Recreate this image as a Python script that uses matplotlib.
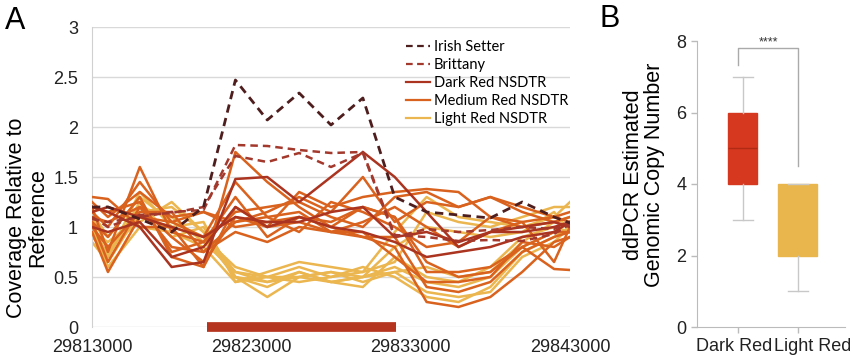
import numpy as np
import matplotlib
matplotlib.use("Agg")
import matplotlib.pyplot as plt
import matplotlib.transforms as mtransforms

plt.rcParams['font.family'] = ['Liberation Sans', 'DejaVu Sans']

# genomic positions of the coverage windows
positions = [29813000, 29814000, 29816000, 29818000, 29820000, 29822000, 29824000,
             29826000, 29828000, 29830000, 29832000, 29834000, 29836000, 29838000,
             29840000, 29842000, 29843000]

irish_setter = [1.2, 1.2, 1.08, 0.95, 1.2, 2.47, 2.07, 2.34, 2.02, 2.29, 1.3, 1.15,
                1.12, 1.09, 1.25, 1.1, 1.04]
brittany = [
    [1.08, 1.05, 1.1, 1.15, 1.17, 1.82, 1.81, 1.77, 1.74, 1.75, 0.92, 0.9, 0.86, 0.87, 0.86, 0.93, 1.03],
    [1.1, 1.0, 1.12, 1.14, 1.2, 1.71, 1.65, 1.74, 1.6, 1.74, 0.9, 0.98, 0.95, 0.97, 1.0, 0.98, 1.05],
]
dark_red = [
    [1.2, 1.15, 1.0, 0.6, 0.65, 1.48, 1.5, 1.25, 1.5, 1.75, 1.5, 1.15, 0.8, 0.95, 0.95, 1.0, 1.05],
    [1.15, 1.2, 1.1, 1.0, 0.9, 1.1, 1.05, 1.05, 1.15, 1.2, 0.9, 0.95, 0.85, 0.95, 1.0, 1.05, 1.0],
    [1.0, 0.95, 1.05, 0.7, 0.8, 1.2, 1.0, 1.1, 1.0, 0.95, 0.85, 0.7, 0.75, 0.8, 0.9, 0.95, 1.05],
]
medium_red = [
    [1.3, 1.28, 1.0, 1.0, 0.6, 1.2, 1.0, 1.35, 1.2, 1.3, 1.35, 1.38, 1.35, 1.1, 1.0, 1.05, 1.1],
    [1.2, 0.75, 1.6, 0.95, 0.85, 1.3, 0.9, 1.1, 1.05, 1.2, 1.1, 0.65, 0.5, 0.55, 0.8, 0.95, 0.95],
    [1.05, 0.9, 1.3, 0.7, 0.6, 1.75, 1.45, 1.2, 1.0, 0.9, 0.8, 0.25, 0.2, 0.3, 0.55, 0.85, 0.9],
    [0.95, 0.55, 1.1, 1.05, 1.15, 1.0, 1.05, 1.1, 1.0, 1.2, 1.1, 0.55, 0.55, 0.6, 0.8, 0.58, 0.57],
    [1.1, 1.05, 1.2, 0.8, 0.75, 1.05, 1.1, 0.95, 1.25, 1.15, 1.0, 0.8, 0.85, 1.1, 1.05, 0.65, 1.0],
    [1.25, 1.1, 1.35, 1.1, 1.15, 1.05, 1.15, 1.3, 1.15, 1.5, 1.05, 1.25, 1.2, 1.3, 1.15, 1.05, 1.0],
    [1.0, 0.8, 1.15, 1.15, 0.75, 0.95, 0.85, 1.0, 0.95, 0.9, 0.9, 0.4, 0.35, 0.45, 0.75, 0.9, 0.95],
    [1.15, 1.0, 1.45, 1.05, 0.9, 1.45, 1.1, 1.15, 0.95, 1.05, 1.2, 1.0, 0.8, 0.95, 1.05, 1.1, 1.15],
    [1.2, 1.15, 1.25, 0.75, 0.85, 1.15, 1.2, 1.25, 1.1, 1.0, 1.3, 1.35, 1.2, 1.3, 1.2, 1.1, 1.05],
    [1.05, 0.65, 1.2, 0.9, 0.65, 1.1, 1.0, 1.05, 0.95, 0.95, 0.7, 0.45, 0.45, 0.5, 0.85, 0.8, 0.9],
]
light_red = [
    [1.0, 0.6, 1.0, 0.95, 0.8, 0.45, 0.5, 0.5, 0.55, 0.5, 0.55, 0.35, 0.3, 0.35, 0.7, 0.85, 1.0],
    [1.05, 0.7, 1.35, 1.0, 0.9, 0.5, 0.45, 0.55, 0.45, 0.5, 0.6, 0.45, 0.4, 0.5, 0.8, 0.95, 1.05],
    [0.9, 0.75, 1.2, 1.1, 0.85, 0.55, 0.5, 0.6, 0.5, 0.55, 0.95, 1.3, 1.1, 1.05, 1.0, 1.1, 1.25],
    [1.1, 0.8, 1.05, 1.25, 0.95, 0.5, 0.3, 0.5, 0.45, 0.4, 0.7, 0.5, 0.45, 0.6, 0.9, 1.0, 0.95],
    [0.95, 0.85, 1.1, 1.0, 1.05, 0.45, 0.55, 0.65, 0.6, 0.55, 0.65, 1.15, 1.05, 1.0, 1.1, 1.2, 1.2],
    [1.15, 0.9, 1.3, 1.05, 0.9, 0.6, 0.5, 0.45, 0.5, 0.6, 0.5, 0.3, 0.25, 0.4, 0.75, 0.9, 1.0],
    [0.85, 0.65, 1.15, 1.2, 0.95, 0.55, 0.45, 0.5, 0.55, 0.45, 0.55, 0.6, 0.5, 0.55, 0.85, 1.05, 1.1],
    [1.0, 0.7, 1.25, 0.9, 1.0, 0.5, 0.4, 0.55, 0.45, 0.5, 0.8, 1.0, 0.95, 0.9, 0.95, 1.15, 0.95],
]
duplicated_region = [29820200, 29832100]

# ddPCR box summary
box_labels = ["Dark Red", "Light Red"]
box_q1 = [4, 2]
box_med = [5, 4]
box_q3 = [6, 4]
box_low = [3, 1]
box_high = [7, 4]

fig = plt.figure(figsize=(8.5, 3.62), dpi=100)

# ---------------- panel A ----------------
ax = fig.add_axes([92 / 850, 1 - 327 / 362, 478 / 850, 300 / 362])

c_irish = "#4e1d1d"
c_britt = "#a3382c"
c_dark = "#ab3420"
c_med = "#d9621e"
c_light = "#ebb64f"

for vals in light_red:
    ax.plot(positions, vals, color=c_light, lw=1.8, zorder=2)
for vals in medium_red:
    ax.plot(positions, vals, color=c_med, lw=1.8, zorder=3)
for vals in dark_red:
    ax.plot(positions, vals, color=c_dark, lw=1.8, zorder=4)
for vals in brittany:
    ax.plot(positions, vals, color=c_britt, lw=1.8, ls=(0, (3, 2)), zorder=5)
ax.plot(positions, irish_setter, color=c_irish, lw=2.0, ls=(0, (3, 2)), zorder=6)

# legend handles
h1, = ax.plot([], [], color=c_irish, lw=1.6, ls=(0, (3, 2)), label="Irish Setter")
h2, = ax.plot([], [], color=c_britt, lw=1.6, ls=(0, (3, 2)), label="Brittany")
h3, = ax.plot([], [], color=c_dark, lw=1.6, label="Dark Red NSDTR")
h4, = ax.plot([], [], color=c_med, lw=1.6, label="Medium Red NSDTR")
h5, = ax.plot([], [], color=c_light, lw=1.6, label="Light Red NSDTR")
leg = ax.legend(handles=[h1, h2, h3, h4, h5], loc="upper left",
                bbox_to_anchor=(0.63, 1.0), frameon=False,
                prop={"family": "Lato", "size": 10.5}, handlelength=1.6,
                handletextpad=0.3, labelspacing=0.28)

ax.plot(duplicated_region, [0, 0], color="#b5341f", lw=7, solid_capstyle="butt",
        clip_on=False, zorder=7)

ax.set_xlim(29813000, 29843000)
ax.set_ylim(0, 3)
ax.set_xticks([29813000, 29823000, 29833000, 29843000])
ax.set_xticklabels(["29813000", "29823000", "29833000", "29843000"])
ax.set_yticks([0, 0.5, 1, 1.5, 2, 2.5, 3])
ax.set_yticklabels(["0", "0.5", "1", "1.5", "2", "2.5", "3"])
ax.tick_params(axis="both", length=0, labelsize=13, colors="#222222")
ax.tick_params(axis="x", pad=9)
ax.tick_params(axis="y", pad=10)
ax.grid(axis="y", color="#d9d9d9", lw=1)
ax.set_axisbelow(True)
for s in ["top", "right", "bottom"]:
    ax.spines[s].set_visible(False)
ax.spines["left"].set_color("#d0d0d0")

fig.text(27 / 850, 1 - 218 / 362, "Coverage Relative to\nReference", rotation=90,
         ha="center", va="center", fontsize=15.5, linespacing=1.0)
fig.text(5 / 850, 1 - 6 / 362, "A", fontsize=22, ha="left", va="top")

# ---------------- panel B ----------------
bx = fig.add_axes([697 / 850, 1 - 327 / 362, 148 / 850, 286 / 362])
stats = []
for i in range(len(box_labels)):
    stats.append(dict(label=box_labels[i], q1=box_q1[i], med=box_med[i], q3=box_q3[i],
                      whislo=box_low[i], whishi=box_high[i], fliers=[]))
bp = bx.bxp(stats, positions=[0.07, 1], widths=[0.5, 0.66], patch_artist=True,
            showfliers=False,
            whiskerprops=dict(color="#c8c8c8", lw=1),
            capprops=dict(color="#c8c8c8", lw=1),
            medianprops=dict(color="#b02a14", lw=1))
for patch, col in zip(bp["boxes"], ["#d5381f", "#e9b64d"]):
    patch.set_facecolor(col)
    patch.set_edgecolor(col)
for cap in bp["caps"]:
    x0, x1 = cap.get_xdata()
    xm = (x0 + x1) / 2
    cap.set_xdata([xm - 0.17, xm + 0.17])
bp["medians"][1].set_visible(False)

bx.set_xlim(-0.7, 1.8)
bx.set_ylim(0, 8)
bx.set_yticks([0, 2, 4, 6, 8])
bx.set_xticks([0, 1])
bx.set_xticklabels(box_labels)
bx.tick_params(axis="both", labelsize=13, colors="#222222", length=4, width=1,
               direction="out")
bx.tick_params(axis="both", color="#bbbbbb")
bx.tick_params(axis="x", pad=4)
for s in ["top", "right"]:
    bx.spines[s].set_visible(False)
for s in ["left", "bottom"]:
    bx.spines[s].set_color("#bbbbbb")
# shift tick labels so the two names sit side by side as in the original
xlabs = bx.get_xticklabels()
xlabs[0].set_transform(xlabs[0].get_transform() +
                       mtransforms.ScaledTranslation(-4 / 100, 0, fig.dpi_scale_trans))
xlabs[1].set_transform(xlabs[1].get_transform() +
                       mtransforms.ScaledTranslation(15 / 100, 0, fig.dpi_scale_trans))

# significance bracket
bx.plot([0, 0, 1, 1], [7.33, 7.8, 7.8, 4.5], color="#aaaaaa", lw=1, clip_on=False)
bx.text(0.5, 7.8, "****", ha="center", va="bottom", fontsize=9, color="#333333")

fig.text(644 / 850, 1 - 175 / 362, "ddPCR Estimated\nGenomic Copy Number", rotation=90,
         ha="center", va="center", fontsize=15.5, linespacing=1.0)
fig.text(600 / 850, 1 - 4 / 362, "B", fontsize=22, ha="left", va="top")

fig.savefig("out.png", dpi=100)
